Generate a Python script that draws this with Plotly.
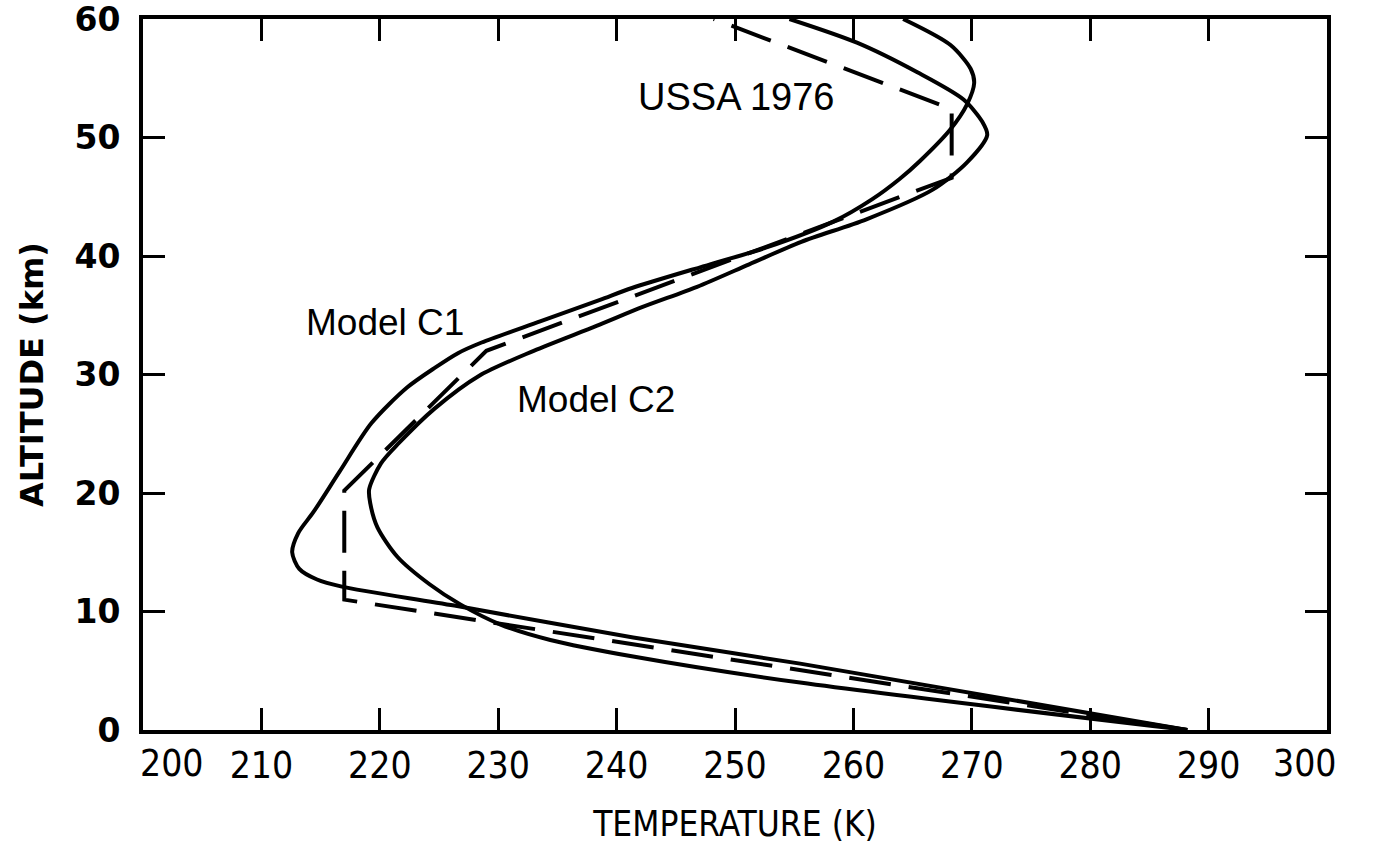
import plotly.graph_objects as go

# Model C1 temperature profile (K) vs altitude (km)
c1_alt = [0, 5.6, 7.8, 10.5, 12.1, 12.7, 13.6, 15.0, 16.6, 18.4, 21.8, 25.9, 28.9, 30.6,
          31.8, 32.7, 34.5, 36.3, 37.3, 39.3, 40.7, 42.9, 44.8, 46.5, 48.0, 50.7, 52.8,
          54.6, 55.8, 57.8, 60.0]
c1_temp = [288.2, 255.5, 241.4, 226.3, 216.8, 214.7, 213.2, 212.6, 213.1, 214.4, 216.6,
           219.3, 222.3, 224.7, 226.6, 228.6, 233.6, 238.6, 241.3, 247.9, 252.6, 258.3,
           261.6, 263.9, 265.6, 268.2, 269.6, 270.2, 269.9, 268.2, 264.2]

# Model C2 temperature profile
c2_alt = [0, 4.0, 6.2, 7.6, 8.9, 10.6, 12.3, 14.6, 17.1, 19.1, 20.3, 22.5, 24.2, 27.1,
          29.9, 32.0, 34.1, 35.7, 37.4, 39.3, 41.2, 43.1, 45.6, 47.9, 50.2, 51.3, 53.2,
          55.5, 58.0, 60.0]
c2_temp = [288.2, 255.5, 241.4, 234.4, 230.2, 226.8, 224.2, 221.5, 219.8, 219.2, 219.1,
           220.1, 221.6, 224.6, 228.4, 233.0, 238.3, 242.2, 246.8, 251.2, 255.6, 261.1,
           266.7, 269.6, 271.3, 270.9, 269.3, 265.4, 260.3, 254.6]

# USSA 1976 standard atmosphere
ussa_alt = [0, 11.0, 20.2, 32.0, 46.6, 52.4, 60.0]
ussa_temp = [288.2, 217.0, 217.0, 229.0, 268.3, 268.3, 248.2]

x_ticks = [210, 220, 230, 240, 250, 260, 270, 280, 290]
y_ticks = [0, 10, 20, 30, 40, 50, 60]

fig = go.Figure()
fig.add_trace(go.Scatter(x=c1_temp, y=c1_alt, mode="lines", name="Model C1",
                         line=dict(color="black", width=4, shape="spline", smoothing=0.8)))
fig.add_trace(go.Scatter(x=c2_temp, y=c2_alt, mode="lines", name="Model C2",
                         line=dict(color="black", width=4, shape="spline", smoothing=0.8)))
fig.add_trace(go.Scatter(x=ussa_temp, y=ussa_alt, mode="lines", name="USSA 1976",
                         line=dict(color="black", width=4, dash="42px,18px")))

label_font = dict(family="Liberation Sans, Arial, sans-serif", size=38, color="black")
fig.add_annotation(x=250.1, y=53.4, text="USSA 1976", showarrow=False, font=label_font)
fig.add_annotation(x=220.4, y=34.4, text="Model C1", showarrow=False, font=dict(label_font, size=37))
fig.add_annotation(x=238.3, y=27.9, text="Model C2", showarrow=False, font=dict(label_font, size=37))

narrow = dict(family="Liberation Sans Narrow, DejaVu Sans Condensed, Arial Narrow, sans-serif",
              size=37, color="black")
fig.add_annotation(x=200, y=0, text="200", showarrow=False, font=narrow,
                   xanchor="center", yanchor="top", xshift=29, yshift=-10)
fig.add_annotation(x=300, y=0, text="300", showarrow=False, font=narrow,
                   xanchor="center", yanchor="top", xshift=-22, yshift=-10)

fig.update_xaxes(range=[200, 300], tickvals=x_ticks, ticktext=[str(v) for v in x_ticks],
                 ticks="inside", ticklen=22, tickwidth=3, tickcolor="black",
                 showline=True, linewidth=4, linecolor="black", mirror="ticks",
                 showgrid=False, zeroline=False, tickfont=narrow, ticklabelstandoff=0,
                 automargin=False,
                 title=dict(text="TEMPERATURE (K)", font=dict(narrow, size=35), standoff=40))
fig.update_yaxes(range=[0, 60], tickvals=y_ticks, ticktext=[str(v) for v in y_ticks],
                 ticks="inside", ticklen=22, tickwidth=3, tickcolor="black",
                 showline=True, linewidth=4, linecolor="black", mirror="ticks",
                 showgrid=False, zeroline=False, ticklabelstandoff=12,
                 ticklabeloverflow="allow", automargin=False,
                 tickfont=dict(family="DejaVu Sans, sans-serif", size=33, color="black", weight="bold"),
                 title=dict(text="ALTITUDE (km)", standoff=22,
                            font=dict(family="DejaVu Sans, sans-serif", size=32, color="black", weight="bold")))

fig.update_layout(width=1383, height=844, margin=dict(l=143, r=56, t=19, b=114),
                  plot_bgcolor="white", paper_bgcolor="white", showlegend=False)

fig.write_html("out.html")
